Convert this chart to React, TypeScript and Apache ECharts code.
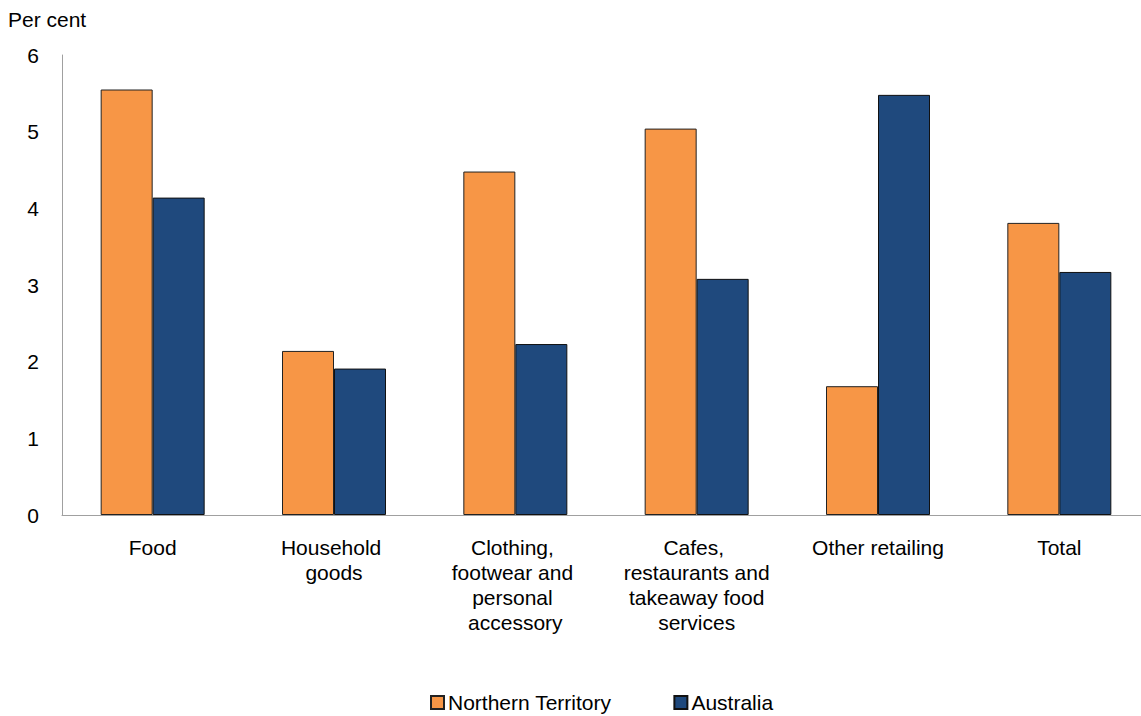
import React, { useEffect, useRef } from "react";
import * as echarts from "echarts";

// Annual growth in retail turnover by industry group
const categories = [
  "Food",
  "Household goods",
  "Clothing, footwear and personal accessory",
  "Cafes, restaurants and takeaway food services",
  "Other retailing",
  "Total",
];
const northernTerritory = [5.55, 2.14, 4.48, 5.04, 1.68, 3.81];
const australia = [4.14, 1.91, 2.23, 3.08, 5.48, 3.17];
const yTicks = [0, 1, 2, 3, 4, 5, 6];

const FONT = "'Liberation Sans', Arial, sans-serif";

export default function App() {
  const ref = useRef<HTMLDivElement>(null);

  useEffect(() => {
    if (!ref.current) return;
    const chart = echarts.init(ref.current, null, { renderer: "svg" });
    chart.setOption({
      animation: false,
      backgroundColor: "#ffffff",
      textStyle: { fontFamily: FONT, color: "#000" },
      title: {
        text: "Per cent",
        left: 8,
        top: 9,
        padding: 0,
        textStyle: { fontFamily: FONT, fontSize: 21, fontWeight: "normal", color: "#000" },
      },
      legend: {
        left: 430,
        top: 692,
        padding: 0,
        itemWidth: 13,
        itemHeight: 13,
        itemGap: 62,
        icon: "rect",
        textStyle: { fontFamily: FONT, fontSize: 21, color: "#000", padding: [0, 0, 0, -1] },
        data: ["Northern Territory", "Australia"],
      },
      grid: {
        left: 62,
        right: -9,
        top: 55,
        bottom: 201,
        outerBoundsMode: "none",
        containLabel: false,
      },
      xAxis: {
        type: "category",
        data: categories,
        axisLine: { lineStyle: { color: "#a0a0a0", width: 1 } },
        axisTick: { show: false },
        axisLabel: {
          fontFamily: FONT,
          fontSize: 21,
          color: "#000",
          margin: 20,
          lineHeight: 25,
          width: 150,
          overflow: "break",
          interval: 0,
        },
      },
      yAxis: {
        type: "value",
        min: yTicks[0],
        max: yTicks[yTicks.length - 1],
        interval: 1,
        axisLine: { show: true, lineStyle: { color: "#a0a0a0", width: 1 } },
        axisTick: { show: false },
        splitLine: { show: false },
        axisLabel: {
          fontFamily: FONT,
          fontSize: 21,
          color: "#000",
          margin: 23,
        },
      },
      series: [
        {
          name: "Northern Territory",
          type: "bar",
          data: northernTerritory,
          barWidth: 52,
          barGap: "0%",
          itemStyle: { color: "#F79646", borderColor: "#222", borderWidth: 1 },
        },
        {
          name: "Australia",
          type: "bar",
          data: australia,
          barWidth: 52,
          barGap: "0%",
          itemStyle: { color: "#1F497D", borderColor: "#111", borderWidth: 1 },
        },
      ],
    });
    return () => chart.dispose();
  }, []);

  return (
    <div
      ref={ref}
      style={{ position: "fixed", left: 0, top: 0, width: 1141, height: 716 }}
    />
  );
}
